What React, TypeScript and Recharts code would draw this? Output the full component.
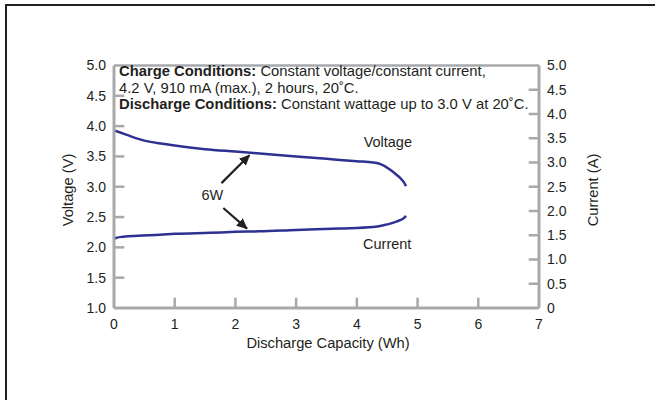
import { LineChart, Line, XAxis, YAxis, ReferenceLine, ReferenceDot } from "recharts";

const capacityV = [0, 0.2, 0.4, 0.6, 0.8, 1.0, 1.5, 2.0, 2.5, 3.0, 3.5, 4.0, 4.27, 4.4, 4.55, 4.65, 4.71, 4.77, 4.81];
const voltage = [3.93, 3.86, 3.79, 3.74, 3.71, 3.68, 3.62, 3.58, 3.54, 3.5, 3.46, 3.42, 3.4, 3.37, 3.28, 3.2, 3.15, 3.08, 3.01];

const capacityI = [0, 0.05, 0.15, 0.4, 0.76, 1.0, 1.58, 2.0, 2.4, 3.0, 3.72, 4.27, 4.45, 4.55, 4.65, 4.71, 4.77, 4.81];
const current = [1.42, 1.45, 1.47, 1.49, 1.51, 1.53, 1.55, 1.57, 1.58, 1.61, 1.64, 1.67, 1.71, 1.74, 1.78, 1.81, 1.85, 1.9];

const xTicks = [0, 1, 2, 3, 4, 5, 6, 7];
const vTicks = [1, 1.5, 2, 2.5, 3, 3.5, 4, 4.5, 5];
const aTicks = [0, 0.5, 1, 1.5, 2, 2.5, 3, 3.5, 4, 4.5, 5];

// arrows from the "6W" note to each curve: [fromX, fromV, toX, toV]
const arrows = [
  [1.77, 3.06, 2.23, 3.52],
  [1.8, 2.65, 2.19, 2.31],
];

const voltageData = capacityV.map((c, i) => ({ c, v: voltage[i] }));
const currentData = capacityI.map((c, i) => ({ c, a: current[i] }));

const GRAY = "#a7a9ac";
const INK = "#231f20";
const BLUE = "#2e3192";
const FONT = "'Liberation Sans', Arial, sans-serif";

export default function App() {
  const tick = { fill: INK, fontSize: 14, fontFamily: FONT };
  const note = { position: "center" as const, fill: INK, fontSize: 14.5, fontFamily: FONT };
  return (
    <div style={{ position: "absolute", left: 0, top: 0, width: 655, height: 400, background: "#fff", overflow: "hidden" }}>
      <div
        style={{
          position: "absolute", left: 5, top: 4, width: 660, height: 410,
          borderLeft: `2.5px solid ${INK}`, borderTop: `2.5px solid ${INK}`,
        }}
      />
      <svg width={0} height={0} style={{ position: "absolute" }}>
        <defs>
          <marker id="arrowHead" markerUnits="userSpaceOnUse" markerWidth="11" markerHeight="10" refX="10" refY="5" orient="auto">
            <path d="M0,0 L11,5 L0,10 Z" fill={INK} />
          </marker>
        </defs>
      </svg>
      <div style={{ position: "absolute", left: 0, top: 0 }}>
        <LineChart width={655} height={400} margin={{ top: 65.5, right: 0, bottom: 52, left: 0 }}>
          <XAxis
            dataKey="c" type="number" domain={[0, 7]} ticks={xTicks} allowDuplicatedCategory={false}
            tick={tick} tickSize={0} tickMargin={11} height={40}
            axisLine={{ stroke: GRAY, strokeWidth: 3 }}
          />
          <YAxis
            yAxisId="v" domain={[1, 5]} ticks={vTicks} width={114}
            tickFormatter={(v: number) => v.toFixed(1)}
            tick={tick} tickSize={0} tickMargin={8}
            axisLine={{ stroke: GRAY, strokeWidth: 3 }}
          />
          <YAxis
            yAxisId="a" orientation="right" domain={[0, 5]} ticks={aTicks} width={116}
            tickFormatter={(v: number) => (v === 0 ? "0" : v.toFixed(1))}
            tick={tick} tickSize={0} tickMargin={8}
            axisLine={{ stroke: GRAY, strokeWidth: 3 }}
          />
          <ReferenceLine yAxisId="v" y={5} stroke={GRAY} strokeWidth={2.5} />
          {vTicks.slice(1, -1).map((t) => (
            <ReferenceLine key={"v" + t} yAxisId="v" segment={[{ x: 0, y: t }, { x: 0.17, y: t }]} stroke={GRAY} strokeWidth={2.5} />
          ))}
          {xTicks.slice(1, -1).map((t) => (
            <ReferenceLine key={"x" + t} yAxisId="v" segment={[{ x: t, y: 1 }, { x: t, y: 1.17 }]} stroke={GRAY} strokeWidth={2.5} />
          ))}
          {aTicks.slice(1, -1).map((t) => (
            <ReferenceLine key={"a" + t} yAxisId="a" segment={[{ x: 6.83, y: t }, { x: 7, y: t }]} stroke={GRAY} strokeWidth={2.5} />
          ))}
          <Line
            yAxisId="v" data={voltageData} dataKey="v" type="monotone"
            stroke={BLUE} strokeWidth={2.5} dot={false} isAnimationActive={false}
          />
          <Line
            yAxisId="a" data={currentData} dataKey="a" type="monotone"
            stroke={BLUE} strokeWidth={2.5} dot={false} isAnimationActive={false}
          />
          {arrows.map(([x1, y1, x2, y2], i) => (
            <ReferenceLine
              key={"arr" + i} yAxisId="v"
              segment={[{ x: x1, y: y1 }, { x: x2, y: y2 }]}
              stroke={INK} strokeWidth={2.2} markerEnd="url(#arrowHead)"
            />
          ))}
          <ReferenceDot yAxisId="v" x={4.51} y={3.74} r={1} fill="none" stroke="none" label={{ value: "Voltage", ...note }} />
          <ReferenceDot yAxisId="v" x={4.5} y={2.06} r={1} fill="none" stroke="none" label={{ value: "Current", ...note }} />
          <ReferenceDot yAxisId="v" x={1.62} y={2.86} r={1} fill="none" stroke="none" label={{ value: "6W", ...note }} />
        </LineChart>
      </div>
      <svg width={655} height={400} style={{ position: "absolute", left: 0, top: 0, pointerEvents: "none" }}>
        <g fontFamily={FONT} fontSize={14.8} fill={INK}>
          <text x={119} y={76}>
            <tspan fontWeight="bold">Charge Conditions:</tspan> Constant voltage/constant current,
          </text>
          <text x={119} y={92.5}>4.2 V, 910 mA (max.), 2 hours, 20˚C.</text>
          <text x={119} y={109}>
            <tspan fontWeight="bold">Discharge Conditions:</tspan> Constant wattage up to 3.0 V at 20˚C.
          </text>
        </g>
        <g fontFamily={FONT} fontSize={14.7} fill={INK} textAnchor="middle">
          <text x={328} y={348}>Discharge Capacity (Wh)</text>
          <text transform="translate(73,190) rotate(-90)">Voltage (V)</text>
          <text transform="translate(598,190) rotate(-90)">Current (A)</text>
        </g>
      </svg>
    </div>
  );
}
